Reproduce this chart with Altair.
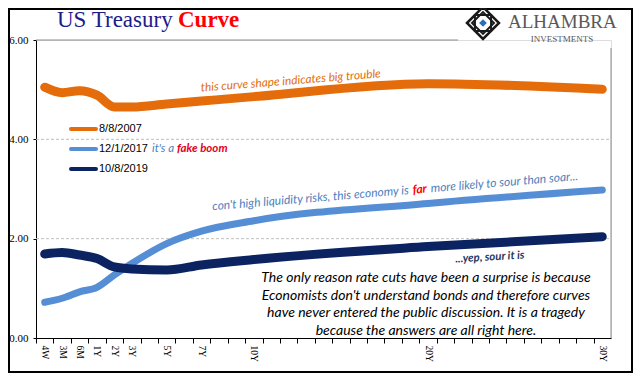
import altair as alt
import pandas as pd

# ---------------- data ----------------
maturities = ["4W", "3M", "6M", "1Y", "2Y", "3Y", "5Y", "7Y", "10Y", "20Y", "30Y"]
axis_pos = [0, 1, 2, 3, 4, 5, 7, 9, 12, 22, 32]   # category slot on the (Excel-style) axis
y_2007 = [5.05, 4.94, 4.98, 4.89, 4.65, 4.65, 4.71, 4.77, 4.86, 5.12, 5.01]
y_2017 = [0.72, 0.80, 0.93, 1.02, 1.27, 1.50, 1.90, 2.15, 2.36, 2.71, 2.98]
y_2019 = [1.69, 1.72, 1.67, 1.60, 1.43, 1.39, 1.37, 1.47, 1.58, 1.84, 2.04]
series_names = ["8/8/2007", "12/1/2017", "10/8/2019"]
series_colors = ["#E46C0A", "#558ED5", "#0B2461"]
y_ticks = [0, 2, 4, 6]
grid_levels = [2, 4]
n_slots = 33

W, H = 575, 298

def series_df(vals, name):
    return pd.DataFrame({"pos": axis_pos, "mat": maturities, "v": vals, "s": name})

label_arr = [""] * n_slots
for m, p in zip(maturities, axis_pos):
    label_arr[p] = m
label_expr = "[" + ",".join("'" + s + "'" for s in label_arr) + "][datum.value]"

step = W / n_slots
xscale = alt.Scale(domain=[-0.5, n_slots - 0.5], nice=False, zero=False)
yscale = alt.Scale(domain=[0, 6], nice=False, zero=False)

x_axis = alt.Axis(values=list(range(n_slots)), labelExpr=label_expr, labelAngle=90,
                  labelFont="Liberation Serif", labelFontSize=9.5, labelColor="black",
                  labelAlign="left", labelBaseline="middle", labelPadding=2,
                  tickSize=5, tickColor="black", domainColor="black",
                  tickOffset=-step / 2, labelOffset=step / 2,
                  grid=False, title=None, labelOverlap=False, labelFlush=False)
y_axis = alt.Axis(values=y_ticks, format=".2f", labelFont="Liberation Serif",
                  labelFontSize=11, labelColor="black", tickSize=3, tickColor="black",
                  domainColor="black", labelPadding=5, grid=False, title=None)

one = alt.Data(values=[{}])

def txt(text, x, y, size, color, font="Lato", style="italic", weight="normal",
        angle=0, align="left", baseline="alphabetic", line_height=None):
    kw = dict(font=font, fontSize=size, color=color, fontStyle=style, fontWeight=weight,
              align=align, baseline=baseline)
    if angle:
        kw["angle"] = angle
    if line_height:
        kw["lineHeight"] = line_height
    return alt.Chart(one).mark_text(**kw).encode(
        x=alt.value(x), y=alt.value(y), text=alt.value(text))

# frame around the whole picture
frame = alt.Chart(one).mark_rect(filled=False, stroke="black", strokeWidth=2).encode(
    x=alt.value(-27), x2=alt.value(596), y=alt.value(-31), y2=alt.value(332))

grid_df = pd.DataFrame({"g": grid_levels})
grid = alt.Chart(grid_df).mark_rule(color="#BFBFBF", strokeDash=[3, 2], strokeWidth=1).encode(
    y=alt.Y("g:Q", scale=yscale, axis=y_axis), x=alt.value(0), x2=alt.value(W))

top_border = alt.Chart(one).mark_rule(color="#8C8C8C", strokeWidth=1).encode(
    y=alt.value(0), x=alt.value(0), x2=alt.value(422))
right_border = alt.Chart(one).mark_rule(color="#8C8C8C", strokeWidth=1).encode(
    x=alt.value(W), y=alt.value(8), y2=alt.value(H))

def line(df, color, width):
    return alt.Chart(df).mark_line(interpolate="monotone", strokeWidth=width,
                                   strokeCap="round", strokeJoin="round", color=color).encode(
        x=alt.X("pos:Q", scale=xscale, axis=x_axis),
        y=alt.Y("v:Q", scale=yscale, axis=y_axis))

l07 = line(series_df(y_2007, series_names[0]), series_colors[0], 9)
l17 = line(series_df(y_2017, series_names[1]), series_colors[1], 7)
l19 = line(series_df(y_2019, series_names[2]), series_colors[2], 9)

# legend (drawn inside the plot)
leg_df = pd.DataFrame({"name": series_names, "row": list(range(3))})
leg_df["ly"] = 89 + 20 * leg_df["row"]
leg_lines = alt.Chart(leg_df).mark_rule(strokeWidth=4, strokeCap="round").encode(
    x=alt.value(35), x2=alt.value(60),
    y=alt.Y("ly:Q", scale=None),
    color=alt.Color("name:N", scale=alt.Scale(domain=series_names, range=series_colors), legend=None))
leg_text = alt.Chart(leg_df).mark_text(font="Liberation Sans", fontSize=11, color="black",
                                        align="left", baseline="middle").encode(
    x=alt.value(63), y=alt.Y("ly:Q", scale=None), text="name:N")

layers = [
    frame, grid, top_border, right_border, l07, l17, l19, leg_lines, leg_text,
    # title
    txt("US Treasury", 21, -13, 23, "#1B1B8A", font="Liberation Serif", style="normal"),
    txt("Curve", 142, -13, 23, "#FF0000", font="Liberation Serif", style="normal", weight="bold"),
    # logo
    txt("ALHAMBRA", 472, -12, 19, "#595959", font="Liberation Serif", style="normal"),
    txt("INVESTMENTS", 526, 2, 9, "#595959", font="Liberation Serif", style="normal", align="center"),
    # annotations
    txt("it's a", 116, 109, 11.5, "#4F81BD", baseline="middle"),
    txt("fake boom", 141, 109, 11.5, "#E0001B", weight="bold", baseline="middle"),
    txt("this curve shape indicates big trouble", 255, 44.5, 11.8, "#E46C0A",
        angle=355.5, align="center"),
    txt("con't high liquidity risks, this economy is", 373, 154, 12, "#4F81BD",
        angle=355.3, align="right"),
    txt("far", 384, 153.1, 12, "#FF0000", weight="bold", angle=355.3, align="center"),
    txt("more likely to sour than soar...", 395, 152.2, 12, "#4F81BD",
        angle=355.3, align="left"),
    txt("...yep, sour it is", 454, 220.5, 11.3, "#1F3864", weight="bold",
        angle=356.6, align="center"),
    txt(["The only reason rate cuts have been a surprise is because",
         "Economists don't understand bonds and therefore curves",
         "have never entered the public discussion. It is  a tragedy",
         "because the answers are all right here."],
        390, 242, 14, "black", align="center", line_height=17.7),
]

# logo ornament
def orn(shape, size, stroke=None, fill=None, sw=2):
    kw = dict(shape=shape, size=size, strokeWidth=sw, filled=fill is not None, opacity=1)
    if fill is not None:
        kw["fill"] = fill
        kw["fillOpacity"] = 1
    if stroke is not None:
        kw["stroke"] = stroke
    return alt.Chart(one).mark_point(**kw).encode(x=alt.value(447), y=alt.value(-17))

layers += [
    orn("diamond", 1024, stroke="#1A1A1A", sw=2.5),
    orn("diamond", 480, stroke="#1A1A1A", sw=2),
    orn("square", 260, stroke="#1A1A1A", sw=2),
    orn("diamond", 60, fill="#2E6DB4", sw=0),
]

chart = alt.layer(*layers).properties(
    width=W, height=H,
    autosize=alt.AutoSizeParams(type="none"),
    padding={"left": 28, "top": 32, "right": 22, "bottom": 35},
).configure_view(stroke=None).configure(background="white")

chart.save("out.html", embed_options={"renderer": "svg", "actions": False})
